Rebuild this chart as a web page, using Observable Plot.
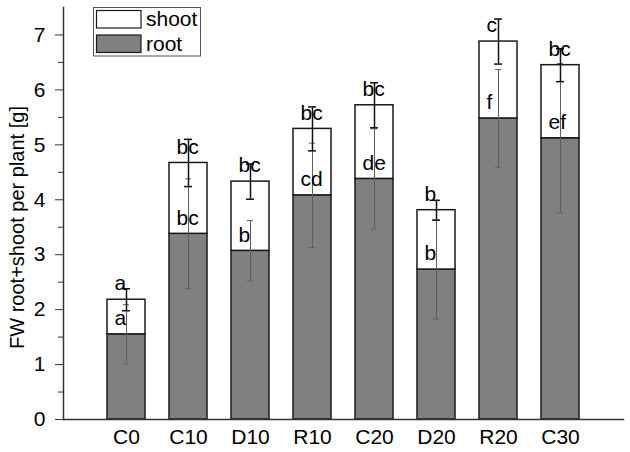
<!DOCTYPE html>
<html>
<head>
<meta charset="utf-8">
<script src="https://cdn.jsdelivr.net/npm/d3@7"></script>
<script src="https://cdn.jsdelivr.net/npm/@observablehq/plot@0.6"></script>
<style>
  html, body { margin: 0; padding: 0; background: #fff; }
</style>
</head>
<body>
<div id="chart"></div>
<script>
const groups = ["C0", "C10", "D10", "R10", "C20", "D20", "R20", "C30"];
const rootValues = [1.55, 3.38, 3.07, 4.08, 4.38, 2.73, 5.48, 5.12];
const totalValues = [2.18, 4.67, 4.33, 5.29, 5.72, 3.81, 6.88, 6.45];
const rootErr = [0.54, 1.0, 0.55, 0.95, 0.91, 0.9, 0.89, 1.36];
const totalErr = [0.2, 0.43, 0.32, 0.4, 0.41, 0.18, 0.41, 0.3];
const rootLetters = ["a", "bc", "b", "cd", "de", "b", "f", "ef"];
const totalLetters = ["a", "bc", "bc", "bc", "bc", "b", "c", "bc"];
const yTicks = [0, 1, 2, 3, 4, 5, 6, 7];
const yMinorTicks = [0.5, 1.5, 2.5, 3.5, 4.5, 5.5, 6.5];
const legendKeys = ["shoot", "root"];
const yLabel = "FW root+shoot per plant [g]";

const rows = groups.map((g, i) => ({
  g, root: rootValues[i], total: totalValues[i],
  rErr: rootErr[i], tErr: totalErr[i],
  rl: rootLetters[i], tl: totalLetters[i]
}));

const ROOT_FILL = "#808080";
const STROKE = "#1a1a1a";
const FONT = "'Liberation Sans', Arial, sans-serif";

const chart = Plot.plot({
  width: 630,
  height: 452,
  marginLeft: 63,
  marginRight: 7,
  marginTop: 7,
  marginBottom: 33,
  style: { fontFamily: FONT, fontSize: "20px", color: "#000", background: "#fff" },
  x: { domain: groups, paddingInner: 0.394, paddingOuter: 0.697, label: null },
  y: { domain: [0, 7.5], label: null },
  marks: [
    Plot.barY(rows, { x: "g", y1: 0, y2: "root", fill: ROOT_FILL, stroke: STROKE, strokeWidth: 1.5 }),
    Plot.barY(rows, { x: "g", y1: "root", y2: "total", fill: "#fff", stroke: STROKE, strokeWidth: 1.5 }),
    // root error bars (grey, thin)
    Plot.ruleX(rows, { x: "g", y1: d => d.root - d.rErr, y2: d => d.root + d.rErr, stroke: "#5e5e5e", strokeWidth: 1 }),
    Plot.tickY(rows, { x: "g", y: d => d.root - d.rErr, stroke: "#5e5e5e", strokeWidth: 1, insetLeft: 16, insetRight: 16 }),
    Plot.tickY(rows, { x: "g", y: d => d.root + d.rErr, stroke: "#5e5e5e", strokeWidth: 1, insetLeft: 16, insetRight: 16 }),
    // total error bars (black)
    Plot.ruleX(rows, { x: "g", y1: d => d.total - d.tErr, y2: d => d.total + d.tErr, stroke: "#111", strokeWidth: 1.5 }),
    Plot.tickY(rows, { x: "g", y: d => d.total - d.tErr, stroke: "#111", strokeWidth: 1.5, insetLeft: 15, insetRight: 15 }),
    Plot.tickY(rows, { x: "g", y: d => d.total + d.tErr, stroke: "#111", strokeWidth: 1.5, insetLeft: 15, insetRight: 15 }),
    // letters
    Plot.text(rows, { x: "g", y: "root", text: "rl", dy: -16, dx: -12, textAnchor: "start", fill: "#000", fontSize: 21 }),
    Plot.text(rows, { x: "g", y: "total", text: "tl", dy: -16, dx: -12, textAnchor: "start", fill: "#000", fontSize: 21 }),
    // axes
    Plot.axisY({ ticks: yTicks, tickSize: 8, tickPadding: 10, label: null, stroke: "#333", fill: "#000", fontSize: 21 }),
    Plot.axisY({ ticks: yMinorTicks, tickSize: 5, text: null, label: null, stroke: "#333" }),
    Plot.axisX({ tickSize: 0, tickPadding: 10, label: null, fill: "#000", fontSize: 21 }),
    Plot.text([yLabel], { frameAnchor: "left", text: d => d, rotate: -90, textAnchor: "middle", dx: -46, dy: 14, fill: "#000", fontSize: 20 }),
    Plot.frame({ anchor: "left", stroke: "#333", strokeWidth: 1.5 }),
    Plot.frame({ anchor: "bottom", stroke: "#333", strokeWidth: 1.5 })
  ]
});

document.getElementById("chart").appendChild(chart);

// legend box drawn in SVG pixel space
const svg = d3.select(chart);
const lg = svg.append("g").attr("font-family", FONT).attr("font-size", 21).attr("fill", "#000").attr("text-anchor", "start");
lg.append("rect").attr("x", 93.5).attr("y", 7.5).attr("width", 107).attr("height", 48.5)
  .attr("fill", "#fff").attr("stroke", "#555").attr("stroke-width", 1);
const legendFills = ["#fff", ROOT_FILL];
legendKeys.forEach((k, i) => {
  lg.append("rect").attr("x", 96.5).attr("y", 10.5 + i * 24.5).attr("width", 44.5).attr("height", 17.5)
    .attr("fill", legendFills[i]).attr("stroke", STROKE).attr("stroke-width", 1.2);
  lg.append("text").attr("x", 146).attr("y", 26 + i * 24.5).attr("text-anchor", "start").text(k);
});
</script>
</body>
</html>
